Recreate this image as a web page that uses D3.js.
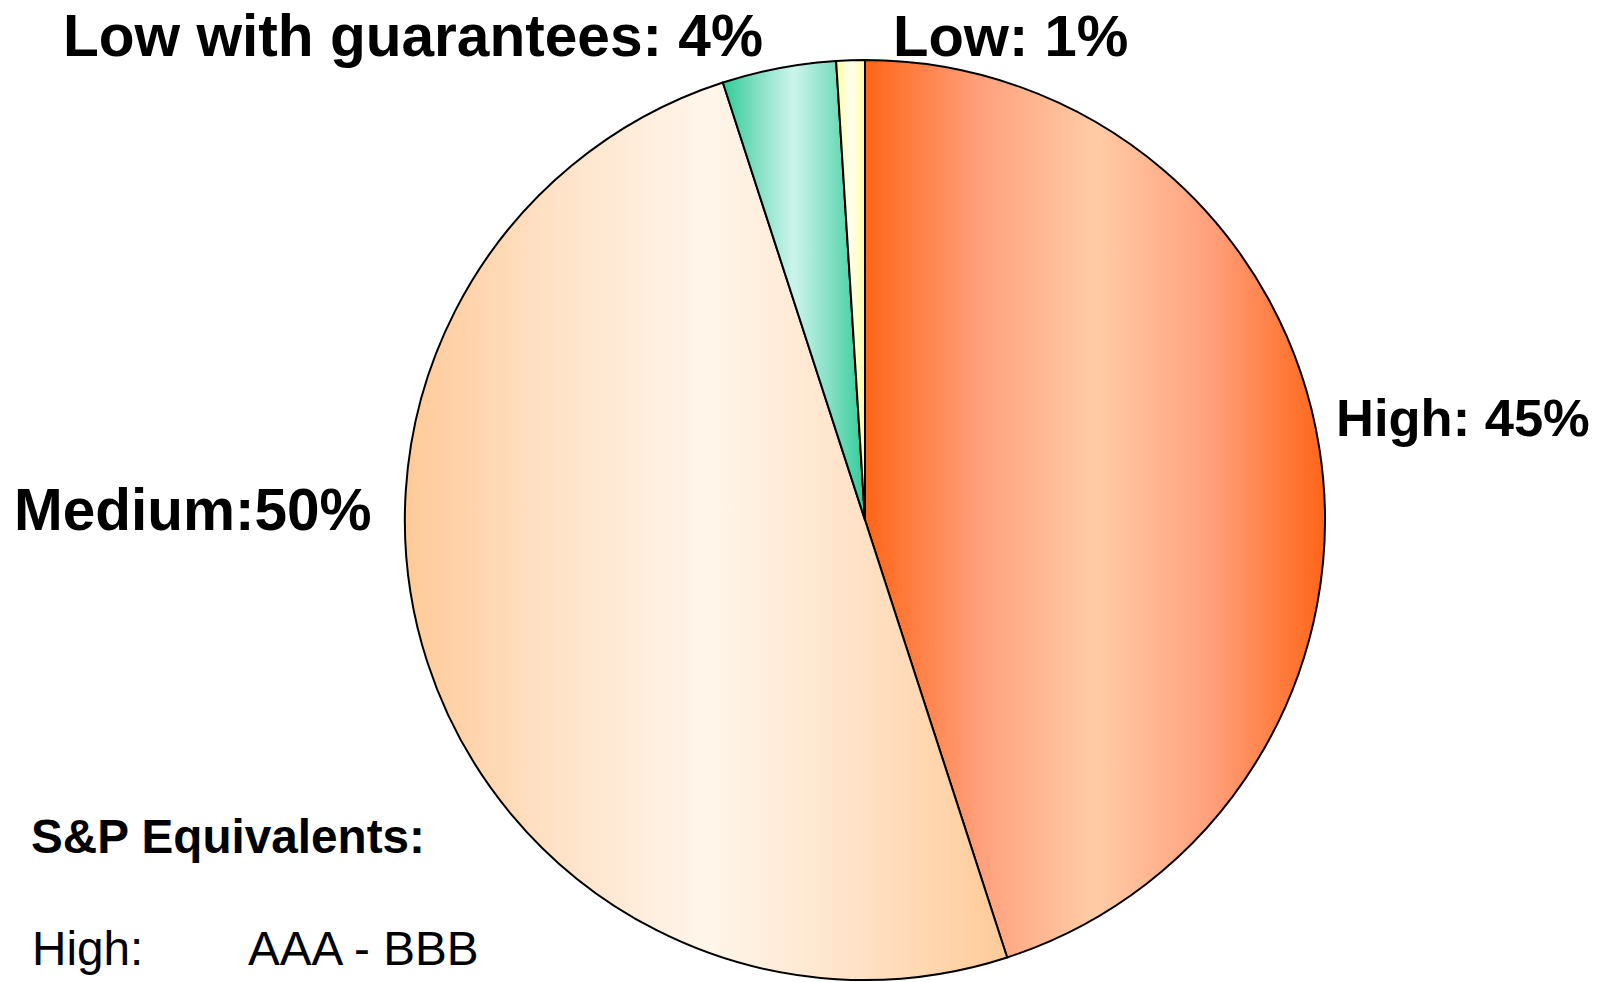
<!DOCTYPE html>
<html>
<head>
<meta charset="utf-8">
<script src="https://cdn.jsdelivr.net/npm/d3@7"></script>
<style>
  html, body { margin: 0; padding: 0; background: #fff; }
  svg { display: block; }
  text { font-family: "Liberation Sans", Arial, sans-serif; fill: #000; }
</style>
</head>
<body>
<svg id="chart" width="1598" height="982"></svg>
<script>
// Credit quality breakdown
const categories = ["High", "Medium", "Low with guarantees", "Low"];
const values = [45, 50, 4, 1];
const labelPrefix = ["High: ", "Medium:", "Low with guarantees: ", "Low: "];
// gradient colours per slice: [edge, quarter, centre]
const edgeColors = ["#ff6517", "#ffca98", "#31cc98", "#ffff9c"];
const quarterColors = ["#ffa07c", "#ffe2c7", "#85e0c4", "#ffffc8"];
const centreColors = ["#ffcca6", "#fff6eb", "#ccf5ec", "#fffff0"];

const noteTitle = "S&P Equivalents:";
const noteRows = [["High:", "AAA - BBB"]];

const W = 1598, H = 982;
const cx = 865, cy = 520, R = 460;

const svg = d3.select("#chart");
const defs = svg.append("defs");

categories.forEach((c, i) => {
  const g = defs.append("linearGradient")
    .attr("id", "grad" + i)
    .attr("x1", 0).attr("y1", 0).attr("x2", 1).attr("y2", 0);
  [[0, edgeColors[i]], [0.25, quarterColors[i]], [0.5, centreColors[i]],
   [0.75, quarterColors[i]], [1, edgeColors[i]]].forEach(([o, col]) => {
    g.append("stop").attr("offset", o).attr("stop-color", col);
  });
});

const pie = d3.pie().sort(null).value(d => d)
  .startAngle(0).endAngle(2 * Math.PI);
const arc = d3.arc().innerRadius(0).outerRadius(R);

const gPie = svg.append("g").attr("transform", `translate(${cx},${cy})`);
gPie.selectAll("path.slice")
  .data(pie(values))
  .join("path")
  .attr("class", "slice")
  .attr("d", arc)
  .attr("fill", (d, i) => `url(#grad${i})`)
  .attr("stroke", "#000")
  .attr("stroke-width", 2)
  .attr("stroke-linejoin", "round");

// slice labels
const labelLayout = [
  { x: 1336, y: 436, size: 52.5 },
  { x: 14, y: 530, size: 58.5 },
  { x: 63, y: 56, size: 58.6 },
  { x: 893, y: 56, size: 58 }
];
svg.selectAll("text.slice-label")
  .data(values)
  .join("text")
  .attr("class", "slice-label")
  .attr("x", (d, i) => labelLayout[i].x)
  .attr("y", (d, i) => labelLayout[i].y)
  .attr("font-size", (d, i) => labelLayout[i].size)
  .attr("font-weight", "bold")
  .text((d, i) => labelPrefix[i] + d + "%");

// rating note
svg.append("text")
  .attr("x", 31).attr("y", 853)
  .attr("font-size", 47.7).attr("font-weight", "bold")
  .text(noteTitle);

noteRows.forEach((r, i) => {
  svg.append("text").attr("x", 32).attr("y", 965 + i * 110)
    .attr("font-size", 47.7).text(r[0]);
  svg.append("text").attr("x", 248).attr("y", 965 + i * 110)
    .attr("font-size", 47.7).text(r[1]);
});
</script>
</body>
</html>
